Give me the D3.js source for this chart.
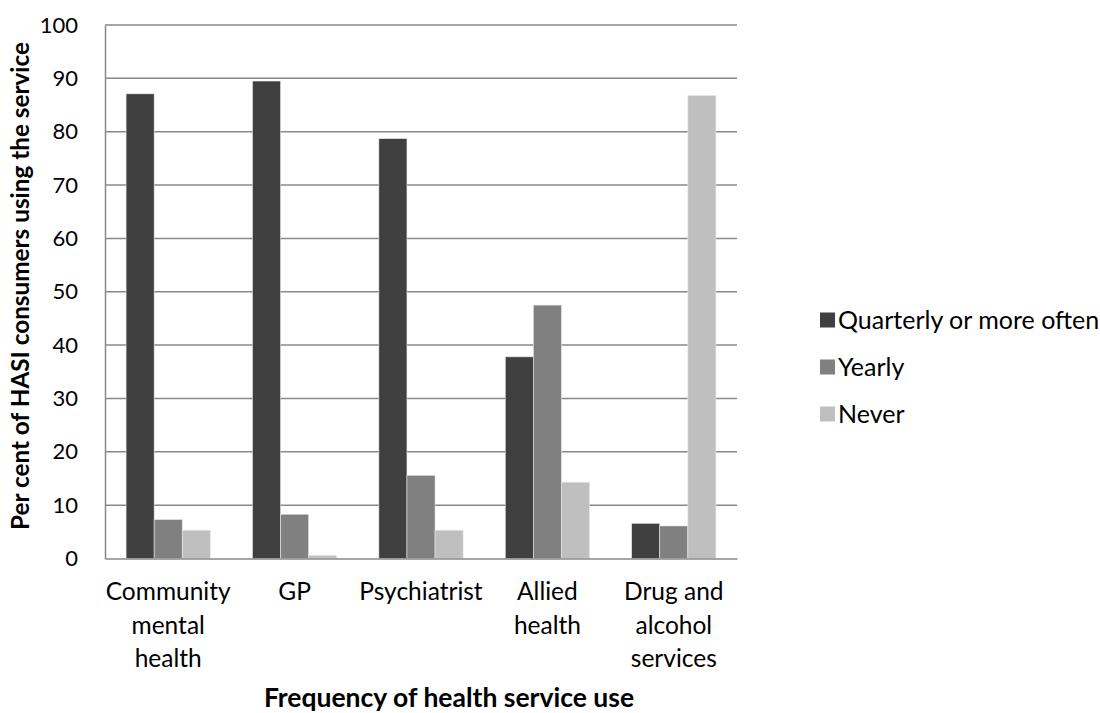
<!DOCTYPE html>
<html>
<head>
<meta charset="utf-8">
<script src="https://cdn.jsdelivr.net/npm/d3@7"></script>
<style>
  html, body { margin: 0; padding: 0; background: #fff; }
  svg { display: block; font-family: Lato, "Open Sans", sans-serif; }
</style>
</head>
<body>
<svg id="chart" width="1100" height="713"></svg>
<script>
// Health service categories (x axis), each label split into lines
const categories = ["Community mental health", "GP", "Psychiatrist", "Allied health", "Drug and alcohol services"];
const categoryLines = [["Community", "mental", "health"], ["GP"], ["Psychiatrist"], ["Allied", "health"], ["Drug and", "alcohol", "services"]];

// Frequency series
const seriesNames = ["Quarterly or more often", "Yearly", "Never"];
const quarterly = [87.1, 89.5, 78.7, 37.8, 6.6];
const yearly    = [7.3, 8.3, 15.6, 47.5, 6.1];
const never     = [5.3, 0.6, 5.3, 14.3, 86.8];
const seriesColors = ["#404040", "#808080", "#bfbfbf"];

const yTicks = [0, 10, 20, 30, 40, 50, 60, 70, 80, 90, 100];

const svg = d3.select("#chart");
const plot = { left: 105, right: 737, top: 25, bottom: 558.5 };

const x0 = d3.scaleBand().domain(categories).range([plot.left, plot.right]).paddingInner(0).paddingOuter(0);
const groupW = x0.bandwidth() * 3 / 4.5;
const x1 = d3.scaleBand().domain(seriesNames).range([0, groupW]).padding(0);
const y = d3.scaleLinear().domain([0, 100]).range([plot.bottom, plot.top]);

const allSeries = [quarterly, yearly, never];

// Gridlines
svg.append("g")
  .selectAll("line")
  .data(yTicks.filter(t => t > 0))
  .join("line")
  .attr("x1", plot.left).attr("x2", plot.right)
  .attr("y1", d => y(d)).attr("y2", d => y(d))
  .attr("stroke", "#888").attr("stroke-width", 1.5);

// Bars
const groups = svg.append("g")
  .selectAll("g")
  .data(categories)
  .join("g")
  .attr("transform", d => `translate(${x0(d) + (x0.bandwidth() - groupW) / 2},0)`);

groups.selectAll("rect")
  .data((d, i) => seriesNames.map((s, j) => ({ s, j, v: allSeries[j][i] })))
  .join("rect")
  .attr("x", d => x1(d.s))
  .attr("width", x1.bandwidth())
  .attr("y", d => y(d.v))
  .attr("height", d => y(0) - y(d.v))
  .attr("fill", d => seriesColors[d.j])
  .attr("stroke", "#e8e8e8")
  .attr("stroke-width", 0.6);

// Y axis
const yAxis = svg.append("g")
  .attr("transform", `translate(${plot.left},0)`)
  .call(d3.axisLeft(y).tickValues(yTicks).tickSize(0).tickPadding(27));
yAxis.select(".domain").attr("stroke", "#888").attr("stroke-width", 1.5);
yAxis.selectAll("text").attr("font-size", 22).attr("fill", "#000").attr("font-family", "Lato, sans-serif");

// X axis baseline
const xAxis = svg.append("g")
  .attr("transform", `translate(0,${plot.bottom})`)
  .call(d3.axisBottom(x0).tickSize(0).tickFormat(""));
xAxis.select(".domain").attr("stroke", "#888").attr("stroke-width", 1.5);

// Category labels
const catLabels = svg.append("g")
  .selectAll("text")
  .data(categories)
  .join("text")
  .attr("x", d => x0(d) + x0.bandwidth() / 2)
  .attr("y", 600)
  .attr("text-anchor", "middle")
  .attr("font-size", 24.5)
  .attr("fill", "#000");
catLabels.each(function (d, i) {
  d3.select(this).selectAll("tspan")
    .data(categoryLines[i])
    .join("tspan")
    .attr("x", x0(d) + x0.bandwidth() / 2)
    .attr("dy", (t, k) => k === 0 ? 0 : 33.5)
    .text(t => t);
});

// Axis titles
svg.append("text")
  .attr("x", 449)
  .attr("y", 707)
  .attr("text-anchor", "middle")
  .attr("font-size", 26.5)
  .attr("font-weight", "bold")
  .attr("fill", "#000")
  .text("Frequency of health service use");

svg.append("text")
  .attr("transform", `translate(29,286) rotate(-90)`)
  .attr("text-anchor", "middle")
  .attr("font-size", 24.3)
  .attr("font-weight", "bold")
  .attr("fill", "#000")
  .text("Per cent of HASI consumers using the service");

// Legend
const legend = svg.append("g")
  .selectAll("g")
  .data(seriesNames)
  .join("g")
  .attr("transform", (d, i) => `translate(820,${320 + i * 47})`);
legend.append("rect")
  .attr("x", 0).attr("y", -7.5)
  .attr("width", 15).attr("height", 15)
  .attr("fill", (d, i) => seriesColors[i]);
legend.append("text")
  .attr("x", 18).attr("y", 8.5)
  .attr("font-size", 25)
  .attr("fill", "#000")
  .text(d => d);
</script>
</body>
</html>
